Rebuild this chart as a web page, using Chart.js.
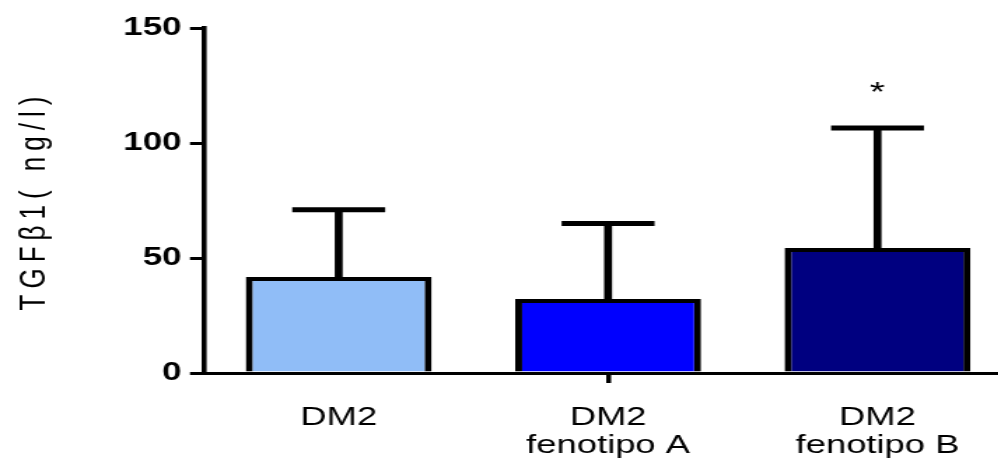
<!DOCTYPE html>
<html>
<head>
<meta charset="utf-8">
<script src="https://cdn.jsdelivr.net/npm/chart.js@4/dist/chart.umd.min.js"></script>
<style>
  html, body { margin: 0; padding: 0; background: #fff; }
  #frame { width: 998px; height: 461px; overflow: hidden; position: relative; }
  /* the plot is drawn narrow and widened horizontally */
  #stretch { width: 723px; height: 461px; transform: scaleX(1.4); transform-origin: 0 0; }
</style>
</head>
<body>
<div id="frame"><div id="stretch"><canvas id="c" width="723" height="461"></canvas></div></div>
<script>
const categories = ['DM2', ['DM2', 'fenotipo A'], ['DM2', 'fenotipo B']];
const means = [41.7, 32.2, 54.3];
const sd = [29.3, 32.8, 52.2];
const significance = ['', '', '*'];
const barColors = ['#90BDF7', '#0000FF', '#000080'];
const yTicks = [0, 50, 100, 150];

const FONT = "'Liberation Sans', Arial, sans-serif";

// widen the letters of the rotated axis title only (drawn before datasets)
const spacingPlugin = {
  id: 'titleSpacing',
  beforeDraw(chart) { chart.ctx.letterSpacing = '6px'; },
  beforeDatasetsDraw(chart) { chart.ctx.letterSpacing = '0px'; }
};

// SD whiskers and significance marks above each bar
const errorBars = {
  id: 'errorBars',
  afterDatasetsDraw(chart) {
    const ctx = chart.ctx;
    const y = chart.scales.y;
    const meta = chart.getDatasetMeta(0);
    ctx.save();
    ctx.strokeStyle = '#000';
    ctx.fillStyle = '#000';
    meta.data.forEach((bar, i) => {
      const x = bar.x;
      const top = y.getPixelForValue(means[i] + sd[i]);
      const base = y.getPixelForValue(means[i]);
      const capHalf = bar.width / 4;
      ctx.lineCap = 'butt';
      ctx.lineWidth = 5.7;
      ctx.beginPath();
      ctx.moveTo(x, base + 2);
      ctx.lineTo(x, top);
      ctx.stroke();
      ctx.lineWidth = 5;
      ctx.beginPath();
      ctx.moveTo(x - capHalf, top);
      ctx.lineTo(x + capHalf, top);
      ctx.stroke();
      if (significance[i]) {
        ctx.font = '28px ' + FONT;
        ctx.textAlign = 'center';
        ctx.textBaseline = 'alphabetic';
        ctx.fillText(significance[i], x, top - 27);
      }
    });
    ctx.restore();
  }
};

new Chart(document.getElementById('c'), {
  type: 'bar',
  data: {
    labels: categories,
    datasets: [{
      data: means,
      backgroundColor: barColors,
      borderColor: '#000',
      borderWidth: { top: 4, left: 5, right: 5, bottom: 0 },
      borderSkipped: 'start',
      barPercentage: 0.69,
      categoryPercentage: 1
    }]
  },
  options: {
    responsive: false,
    animation: false,
    devicePixelRatio: 1,
    layout: { padding: { top: 28, right: 0, bottom: 0, left: 0 } },
    plugins: { legend: { display: false }, tooltip: { enabled: false } },
    scales: {
      x: {
        grid: {
          display: true,
          drawOnChartArea: false,
          offset: false,
          tickLength: 10,
          lineWidth: 3.5,
          color: (c) => c.index === 1 ? '#000' : 'rgba(0,0,0,0)',
          z: -1
        },
        border: { display: true, color: '#000', width: 3 },
        ticks: {
          color: '#000',
          font: { family: FONT, size: 26, lineHeight: 1.08 },
          padding: 21,
          maxRotation: 0,
          autoSkip: false,
          z: 1
        },
        afterFit(scale) { scale.height = 88; }
      },
      y: {
        min: 0,
        max: 150,
        afterBuildTicks(scale) { scale.ticks = yTicks.map(v => ({ value: v })); },
        grid: {
          display: true,
          drawOnChartArea: false,
          tickLength: 10,
          lineWidth: 3,
          color: '#000',
          z: -1
        },
        border: { display: true, color: '#000', width: 3.6 },
        ticks: {
          color: '#000',
          font: { family: FONT, size: 25, weight: 'bold' },
          padding: 6,
          z: 1
        },
        title: {
          display: true,
          text: 'TGFβ1( ng/l)',
          color: '#000',
          font: { family: FONT, size: 26 },
          padding: { top: 9, bottom: 0 }
        },
        afterFit(scale) { scale.width = 145.7; }
      }
    }
  },
  plugins: [spacingPlugin, errorBars]
});
</script>
</body>
</html>
